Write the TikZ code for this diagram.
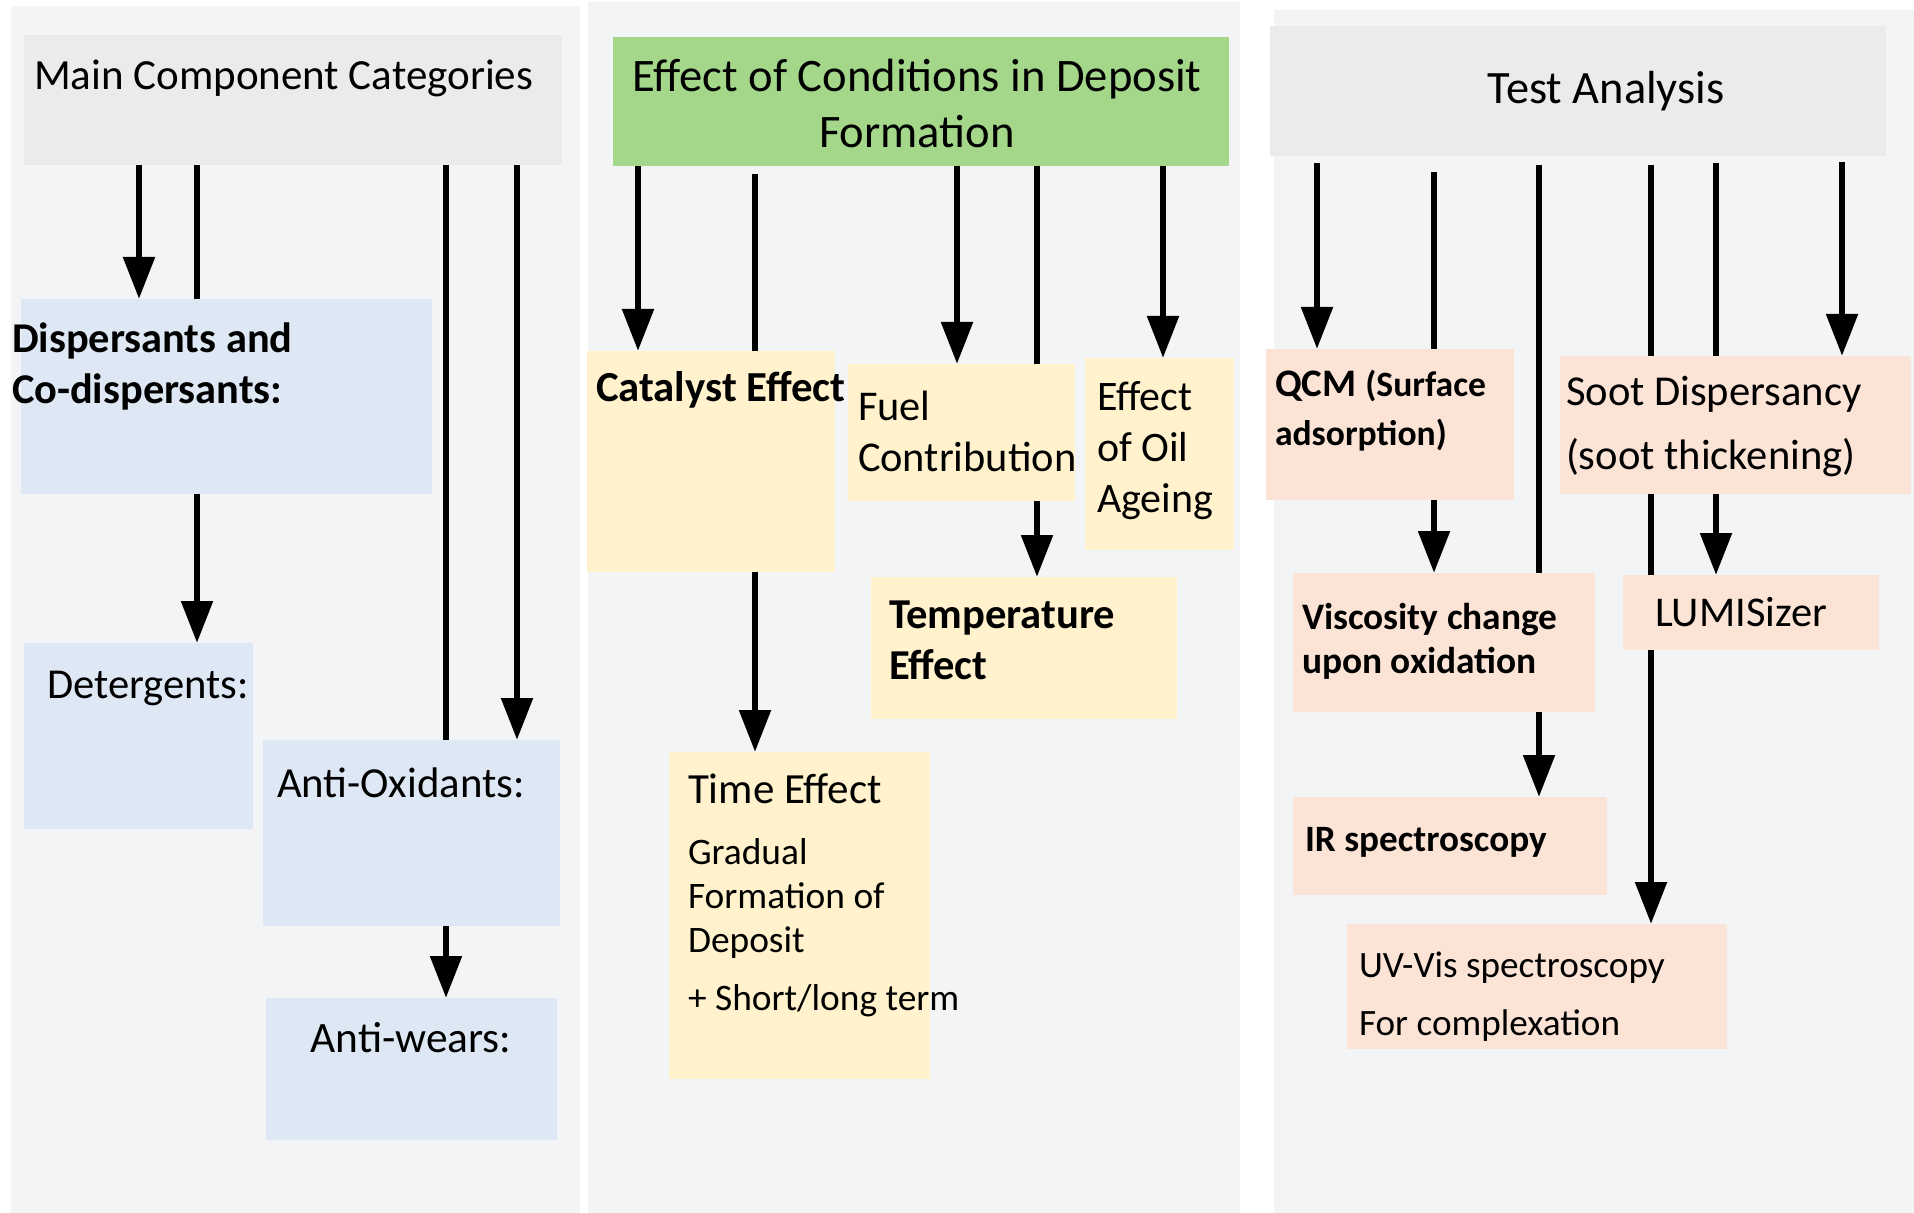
\documentclass[tikz,border=0pt]{standalone}
\usepackage{fontspec}
\setmainfont{Carlito}
\usetikzlibrary{arrows.meta,fit}
\pgfdeclarelayer{panels}
\pgfdeclarelayer{lines}
\pgfsetlayers{panels,lines,main}
\definecolor{panelbg}{RGB}{243,244,246}
\definecolor{hdrgray}{RGB}{235,235,235}
\definecolor{hdrgreen}{RGB}{164,215,138}
\definecolor{boxblue}{RGB}{222,232,244}
\definecolor{boxyellow}{RGB}{255,242,204}
\definecolor{boxpeach}{RGB}{251,227,214}
\newcommand\fsz[1]{\fontsize{#1}{#1}\selectfont}
\begin{document}
\begin{tikzpicture}[x=0.5pt,y=-0.5pt,
  boxbase/.style={inner sep=0pt, outer sep=0pt, draw=none},
  panelbox/.style={boxbase, fill=panelbg},
  graybox/.style={boxbase, fill=hdrgray},
  greenbox/.style={boxbase, fill=hdrgreen},
  bluebox/.style={boxbase, fill=boxblue},
  yelbox/.style={boxbase, fill=boxyellow},
  peachbox/.style={boxbase, fill=boxpeach},
  txt/.style={inner sep=0pt, outer sep=0pt, anchor=base west},
  ctxt/.style={inner sep=0pt, outer sep=0pt, anchor=base},
  arr/.style={line width=3.25pt, -{Triangle[width=15.3pt,length=21pt]}}
]
\useasboundingbox (0,0) rectangle (1914,1213);

% panels
\begin{pgfonlayer}{panels}
\fill[white] (0,0) rectangle (1914,1213);
\node[panelbox, fit={(11,6) (580,1213)}] (p1) {};
\node[panelbox, fit={(588,2) (1240,1213)}] (p2) {};
\node[panelbox, fit={(1274,10) (1914,1213)}] (p3) {};
\end{pgfonlayer}

% ---------- panel 1 ----------
\node[graybox, fit={(24,35) (562,165)}] (h1) {};
\node[txt, font=\fsz{21.5}] (h1t) at (34,90) {Main Component Categories};

\node[bluebox, fit={(21,299) (432,494)}] (disp) {};
\node[txt, font=\fsz{21.2}\bfseries] (disp1) at (12,353) {Dispersants and};
\node[txt, font=\fsz{21.2}\bfseries] (disp2) at (12,404) {Co-dispersants:};

\node[bluebox, fit={(24,643) (253,829)}] (det) {};
\node[txt, font=\fsz{21.3}] (dett) at (47,698) {Detergents:};

\node[bluebox, fit={(263,740) (560,926)}] (aox) {};
\node[txt, font=\fsz{21.4}] (aoxt) at (277,797) {Anti-Oxidants:};

\node[bluebox, fit={(266,998) (557,1140)}] (aw) {};
\node[ctxt, font=\fsz{21.7}] (awt) at (411,1052) {Anti-wears:};

% ---------- panel 2 ----------
\node[greenbox, fit={(613,37) (1229,166)}] (h2) {};
\node[ctxt, font=\fsz{23.3}] (h2a) at (917,92) {Effect of Conditions in Deposit};
\node[ctxt, font=\fsz{23.3}] (h2b) at (917,148) {Formation};

\node[yelbox, fit={(587,351) (835,572)}] (cat) {};
\node[txt, font=\fsz{21.4}\bfseries] (catt) at (596,401) {Catalyst Effect};

\node[yelbox, fit={(848,364) (1075,501)}] (fuel) {};
\node[txt, font=\fsz{21.2}] (fuel1) at (858,421) {Fuel};
\node[txt, font=\fsz{21.2}] (fuel2) at (858,472) {Contribution};

\node[yelbox, fit={(1085,358) (1234,550)}] (oil) {};
\node[txt, font=\fsz{21}] (oil1) at (1097,411) {Effect};
\node[txt, font=\fsz{21}] (oil2) at (1097,461) {of Oil};
\node[txt, font=\fsz{21}] (oil3) at (1097,512) {Ageing};

\node[yelbox, fit={(871,577) (1177,719)}] (temp) {};
\node[txt, font=\fsz{21.3}\bfseries] (temp1) at (889,628) {Temperature};
\node[txt, font=\fsz{21.3}\bfseries] (temp2) at (889,679) {Effect};

\node[yelbox, fit={(669,752) (930,1079)}] (time) {};
\node[txt, font=\fsz{21.5}] (time1) at (688,803) {Time Effect};
\node[txt, font=\fsz{18.7}] (time2) at (688,864) {Gradual};
\node[txt, font=\fsz{18.7}] (time3) at (688,908) {Formation of};
\node[txt, font=\fsz{18.7}] (time4) at (688,952) {Deposit};
\node[txt, font=\fsz{18.7}] (time5) at (688,1010) {+ Short/long term};

% ---------- panel 3 ----------
\node[graybox, fit={(1270,26) (1886,156)}] (h3) {};
\node[ctxt, font=\fsz{23.2}] (h3t) at (1606,104) {Test Analysis};

\node[peachbox, fit={(1266,349) (1514,500)}] (qcm) {};
\node[txt, font=\bfseries] (qcm1) at (1275,397) {\fsz{19.5}QCM \fsz{17.8}(Surface};
\node[txt, font=\fsz{17.8}\bfseries] (qcm2) at (1275,445) {adsorption)};

\node[peachbox, fit={(1560,356) (1911,494)}] (soot) {};
\node[txt, font=\fsz{21.3}] (soot1) at (1566,406) {Soot Dispersancy};
\node[txt, font=\fsz{21.3}] (soot2) at (1566,469) {(soot thickening)};

\node[peachbox, fit={(1293,573) (1595,712)}] (visc) {};
\node[txt, font=\fsz{18.7}\bfseries] (visc1) at (1302,629) {Viscosity change};
\node[txt, font=\fsz{18.7}\bfseries] (visc2) at (1302,673) {upon oxidation};

\node[peachbox, fit={(1623,575) (1879,650)}] (lumi) {};
\node[txt, font=\fsz{21.2}] (lumit) at (1655,626) {LUMISizer};

\node[peachbox, fit={(1293,797) (1607,895)}] (ir) {};
\node[txt, font=\fsz{18.6}\bfseries] (irt) at (1305,851) {IR spectroscopy};

\node[peachbox, fit={(1347,924) (1727,1049)}] (uv) {};
\node[txt, font=\fsz{18.6}] (uv1) at (1359,977) {UV-Vis spectroscopy};
\node[txt, font=\fsz{18.6}] (uv2) at (1359,1035) {For complexation};

% ---------- connectors ----------
\coordinate (xa1) at (139,0);
\coordinate (xa2) at (197,0);
\coordinate (xa3) at (446,0);
\coordinate (xa4) at (517,0);
\coordinate (xb1) at (638,0);
\coordinate (sb2) at (755,174);
\coordinate (xb3) at (957,0);
\coordinate (xb4) at (1037,0);
\coordinate (xb5) at (1163,0);
\coordinate (sc1) at (1317,163);
\coordinate (sc2) at (1434,172);
\coordinate (sc3) at (1539,165);
\coordinate (sc4) at (1651,165);
\coordinate (sc5) at (1716,163);
\coordinate (sc6) at (1842,162);

\begin{pgfonlayer}{lines}
\draw[arr] (h1.south -| xa1) -- (disp.north -| xa1);
\draw[arr] (h1.south -| xa2) -- (det.north -| xa2);
\draw[arr] (h1.south -| xa3) -- (aw.north -| xa3);
\draw[arr] (h1.south -| xa4) -- (aox.north -| xa4);

\draw[arr] (h2.south -| xb1) -- (cat.north -| xb1);
\draw[arr] (sb2) -- (time.north -| sb2);
\draw[arr] (h2.south -| xb3) -- (fuel.north -| xb3);
\draw[arr] (h2.south -| xb4) -- (temp.north -| xb4);
\draw[arr] (h2.south -| xb5) -- (oil.north -| xb5);

\draw[arr] (sc1) -- (qcm.north -| sc1);
\draw[arr] (sc2) -- (visc.north -| sc2);
\draw[arr] (sc3) -- (ir.north -| sc3);
\draw[arr] (sc4) -- (uv.north -| sc4);
\draw[arr] (sc5) -- (lumi.north -| sc5);
\draw[arr] (sc6) -- (soot.north -| sc6);
\end{pgfonlayer}
\end{tikzpicture}
\end{document}
